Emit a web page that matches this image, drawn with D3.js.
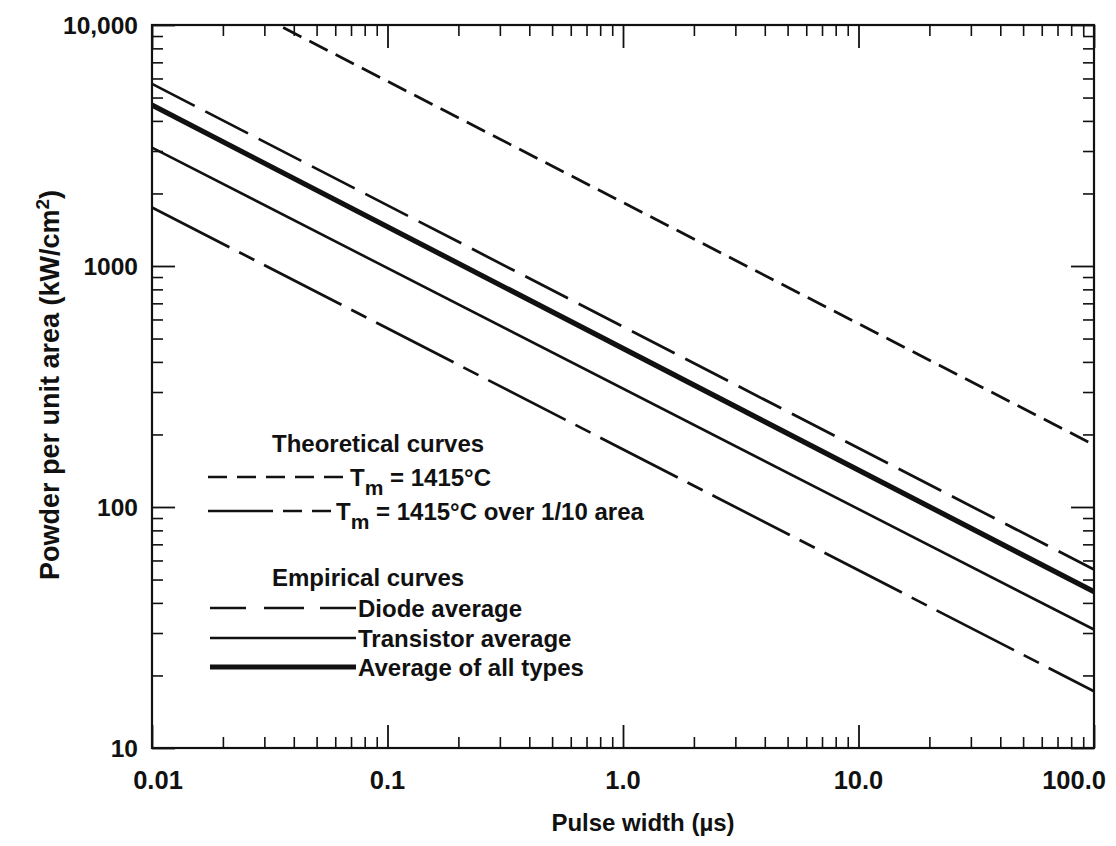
<!DOCTYPE html>
<html><head><meta charset="utf-8">
<script src="https://cdn.jsdelivr.net/npm/d3@7"></script>
<style>
body{margin:0;background:#fff}
svg{display:block}
text{font-family:"Liberation Sans",Arial,Helvetica,sans-serif;fill:#111}
</style>
</head><body><svg id="chart" width="1116" height="846"></svg>
<script>
// ---- data ----
const pulseWidth = [0.01, 100];                 // µs, line end points
const theoreticalTm = [18600, 181];             // Tm = 1415°C
const theoreticalTenthArea = [1750, 17.2];      // Tm = 1415°C over 1/10 area
const diodeAverage = [5700, 55];
const transistorAverage = [3100, 31];
const allTypesAverage = [4650, 44.5];

const xMajorTicks = [0.01, 0.1, 1, 10, 100];
const xTickLabels = ["0.01", "0.1", "1.0", "10.0", "100.0"];
const yMajorTicks = [10, 100, 1000, 10000];
const yTickLabels = ["10", "100", "1000", "10,000"];
const minorMultipliers = [2, 3, 4, 5, 6, 7, 8, 9];

const xTitle = "Pulse width (\u00b5s)";
const yTitle = "Powder per unit area (kW/cm";

// ---- styles ----
const styles = {
  theo:   {w: 2.7, dash: "20.5,9"},
  tenth:  {w: 2.7, dash: "87,11,17,11"},
  diode:  {w: 2.7, dash: "48,12"},
  trans:  {w: 2.6, dash: null},
  all:    {w: 5.2, dash: null}
};
const series = [
  {key: "theo",  values: theoreticalTm},
  {key: "tenth", values: theoreticalTenthArea},
  {key: "diode", values: diodeAverage},
  {key: "trans", values: transistorAverage},
  {key: "all",   values: allTypesAverage}
];

const W = 1116, H = 846;
const m = {left: 152, top: 25, right: 22, bottom: 98};
const iw = W - m.left - m.right, ih = H - m.top - m.bottom;

const svg = d3.select("#chart");
const g = svg.append("g").attr("transform", `translate(${m.left},${m.top})`);

const x = d3.scaleLog().domain([0.01, 100]).range([0, iw]);
const y = d3.scaleLog().domain([10, 10000]).range([ih, 0]);

const xMinor = [];
xMajorTicks.slice(0, -1).forEach(d => minorMultipliers.forEach(k => xMinor.push(d * k)));
const yMinor = [];
yMajorTicks.slice(0, -1).forEach(d => minorMultipliers.forEach(k => yMinor.push(d * k)));

g.append("defs").append("clipPath").attr("id", "clip")
  .append("rect").attr("width", iw).attr("height", ih);

// ---- lines ----
const line = d3.line().x(d => x(d[0])).y(d => y(d[1]));
g.append("g").attr("clip-path", "url(#clip)")
  .selectAll("path").data(series).join("path")
  .attr("d", s => line(pulseWidth.map((p, i) => [p, s.values[i]])))
  .attr("fill", "none").attr("stroke", "#111")
  .attr("stroke-width", s => styles[s.key].w)
  .attr("stroke-dasharray", s => styles[s.key].dash);

// ---- axes (ticks inward on all sides) ----
const MAJ = 23, MIN = 11;
function styleAxis(sel, sw) {
  sel.select(".domain").remove();
  sel.selectAll(".tick line").attr("stroke", "#111").attr("stroke-width", sw);
}
// bottom
g.append("g").attr("transform", `translate(0,${ih})`)
  .call(d3.axisTop(x).tickValues(xMinor).tickSize(MIN).tickFormat(""))
  .call(s => styleAxis(s, 1.6));
g.append("g").attr("transform", `translate(0,${ih})`)
  .call(d3.axisTop(x).tickValues(xMajorTicks).tickSize(MAJ).tickFormat(""))
  .call(s => styleAxis(s, 1.8));
g.append("g").selectAll("text").data(xMajorTicks).join("text")
  .attr("x", (d, i) => x(d) + (i === 0 ? 6 : 0))
  .attr("y", ih + 41)
  .attr("text-anchor", (d, i) => i === xMajorTicks.length - 1 ? "end" : "middle")
  .attr("dx", (d, i) => i === xMajorTicks.length - 1 ? 12 : 0)
  .attr("font-size", 25.5).attr("font-weight", "bold")
  .text((d, i) => xTickLabels[i]);
// top
g.append("g")
  .call(d3.axisBottom(x).tickValues(xMinor).tickSize(MIN).tickFormat(""))
  .call(s => styleAxis(s, 1.6));
g.append("g")
  .call(d3.axisBottom(x).tickValues(xMajorTicks).tickSize(MAJ).tickFormat(""))
  .call(s => styleAxis(s, 1.8));
// left
g.append("g")
  .call(d3.axisRight(y).tickValues(yMinor).tickSize(MIN).tickFormat(""))
  .call(s => styleAxis(s, 1.6));
g.append("g")
  .call(d3.axisRight(y).tickValues(yMajorTicks).tickSize(MAJ).tickFormat(""))
  .call(s => styleAxis(s, 1.8));
g.append("g").selectAll("text").data(yMajorTicks).join("text")
  .attr("x", -14).attr("y", d => y(d) + 9)
  .attr("text-anchor", "end")
  .attr("font-size", 24.5).attr("font-weight", "bold")
  .text((d, i) => yTickLabels[i]);
// right
g.append("g").attr("transform", `translate(${iw},0)`)
  .call(d3.axisLeft(y).tickValues(yMinor).tickSize(MIN).tickFormat(""))
  .call(s => styleAxis(s, 1.6));
g.append("g").attr("transform", `translate(${iw},0)`)
  .call(d3.axisLeft(y).tickValues(yMajorTicks).tickSize(MAJ).tickFormat(""))
  .call(s => styleAxis(s, 1.8));

// frame
g.append("rect").attr("width", iw).attr("height", ih)
  .attr("fill", "none").attr("stroke", "#111").attr("stroke-width", 2.2);

// ---- axis titles ----
g.append("text").attr("x", iw / 2 + 20).attr("y", ih + 83)
  .attr("text-anchor", "middle").attr("font-size", 24).attr("font-weight", "bold")
  .text(xTitle);
const yt = svg.append("text")
  .attr("transform", `translate(59,385) rotate(-90)`)
  .attr("text-anchor", "middle").attr("font-size", 27).attr("font-weight", "bold");
yt.append("tspan").text(yTitle);
yt.append("tspan").attr("dy", -10).attr("font-size", 19).text("2");
yt.append("tspan").attr("dy", 10).text(")");

// ---- legend ----
const L = svg.append("g");
const legendHeaders = ["Theoretical curves", "Empirical curves"];
const headerY = [452, 586];
L.selectAll("text.hdr").data(legendHeaders).join("text").attr("class", "hdr")
  .attr("x", 272).attr("y", (d, i) => headerY[i])
  .attr("font-size", 24).attr("font-weight", "bold").text(d => d);

function sample(x1, x2, yy, key, dash) {
  L.append("line").attr("x1", x1).attr("x2", x2).attr("y1", yy).attr("y2", yy)
    .attr("stroke", "#111").attr("stroke-width", styles[key].w)
    .attr("stroke-dasharray", dash === undefined ? styles[key].dash : dash);
}
sample(208, 345, 477, "theo", "19,10");
sample(208, 332, 511, "tenth", "65,10,19,10,19,200");
sample(210, 356, 608, "diode", "36,18,40,16,38");
sample(210, 356, 638, "trans");
sample(210, 356, 667, "all");

function tmLabel(xx, yy, rest) {
  const t = L.append("text").attr("x", xx).attr("y", yy)
    .attr("font-size", 24).attr("font-weight", "bold");
  t.append("tspan").text("T");
  t.append("tspan").attr("dy", 9).attr("font-size", 21).text("m");
  t.append("tspan").attr("dy", -9).text(rest);
}
tmLabel(350, 486, " = 1415\u00b0C");
tmLabel(336, 520, " = 1415\u00b0C over 1/10 area");

const empiricalLabels = ["Diode average", "Transistor average", "Average of all types"];
const empY = [617, 647, 676];
L.selectAll("text.emp").data(empiricalLabels).join("text").attr("class", "emp")
  .attr("x", 358).attr("y", (d, i) => empY[i])
  .attr("font-size", 24).attr("font-weight", "bold").text(d => d);
</script>
</body></html>
